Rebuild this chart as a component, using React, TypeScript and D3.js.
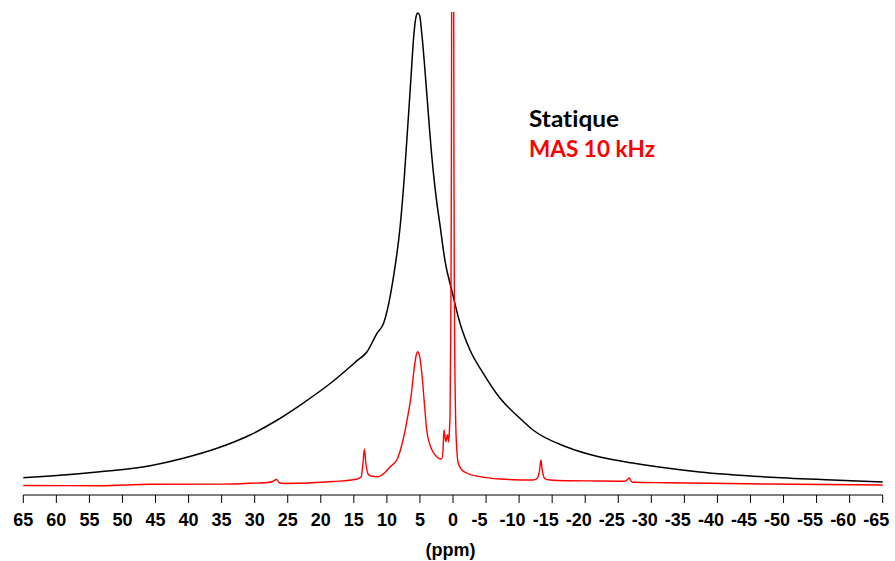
import React from "react";
import * as d3 from "d3";

// Static spectrum (black): ppm (descending) and relative intensity
const staticPpm = [65.0, 60.9, 53.4, 45.8, 40.8, 35.7, 30.7, 26.7, 23.1, 18.1, 14.6, 13.0, 11.5, 10.5, 9.0, 8.0, 7.36, 6.35, 5.9, 5.56, 5.34, 5.03, 4.73, 3.89, 3.48, 2.98, 2.5, 1.97, 1.21, 0.2, -1.06, -2.57, -4.58, -7.1, -10.13, -12.1, -17.2, -22.2, -27.2, -32.3, -37.3, -47.4, -57.4, -65.0];
const staticInt = [1.75, 2.11, 3.02, 4.29, 5.86, 7.97, 10.78, 13.85, 17.12, 22.2, 26.4, 28.39, 32.28, 34.4, 44.25, 54.82, 65.39, 86.53, 95.77, 99.4, 100, 99.4, 95.77, 81.6, 74.2, 66.4, 60.5, 55.2, 47.6, 41.44, 34.4, 28.75, 23.83, 18.6, 14.31, 11.84, 8.25, 6.13, 4.86, 3.81, 2.96, 1.9, 1.27, 0.85];

// MAS 10 kHz spectrum (red)
const masPpm = [65, 53.4, 45.8, 33.3, 30.7, 28.0, 27.3, 26.7, 26.2, 25.4, 18.1, 14.6, 13.9, 13.6, 13.4, 13.2, 12.85, 12.4, 11.3, 10.3, 9.5, 8.5, 7.56, 6.95, 6.35, 5.9, 5.52, 5.34, 5.06, 4.69, 4.31, 3.98, 3.48, 3.02, 2.46, 1.97, 1.71, 1.51, 1.36, 1.21, 1.06, 0.91, 0.8, 0.68, 0.55, 0.45, 0.4, 0.35, 0.3, 0.25, 0.2, 0.15, 0.1, 0.05, 0, -0.05, -0.1, -0.15, -0.2, -0.25, -0.3, -0.4, -0.6, -0.8, -1.36, -2.07, -4.08, -7.1, -12.1, -12.7, -13.1, -13.3, -13.5, -13.9, -14.7, -17.2, -22.2, -26.0, -26.4, -26.65, -27.0, -27.5, -32.3, -47.4, -65];
const masInt = [0.1, 0.06, 0.36, 0.42, 0.57, 0.74, 0.95, 1.37, 0.63, 0.53, 0.95, 1.42, 1.9, 5.07, 7.76, 5.07, 2.54, 2.11, 1.97, 2.85, 4.08, 5.5, 9.73, 13.95, 18.88, 24.52, 27.9, 28.39, 27.5, 23.47, 17.12, 11.84, 8.67, 7.19, 6.19, 5.71, 5.71, 7.61, 11.84, 10.36, 9.37, 10.57, 10.78, 9.3, 11.5, 15, 22.7, 30.4, 43, 65, 106, 197, 404, 623, 404, 197, 106, 65, 43, 30.4, 22.7, 14, 7.19, 4.8, 3.38, 2.75, 1.97, 1.48, 1.27, 1.58, 3.38, 5.5, 3.38, 1.58, 1.27, 1.12, 1.06, 1.01, 1.37, 1.69, 0.95, 0.78, 0.7, 0.42, 0.21];

const tickValues = [65, 60, 55, 50, 45, 40, 35, 30, 25, 20, 15, 10, 5, 0, -5, -10, -15, -20, -25, -30, -35, -40, -45, -50, -55, -60, -65];
const legendLabels = ["Statique", "MAS 10 kHz"];
const legendColors = ["#000000", "#ff0000"];
const legendWidths = [90, 126];

export default function App() {
  const W = 895, H = 561;
  const x = d3.scaleLinear().domain([65, -65]).range([23.3, 882.7]);
  const y = d3.scaleLinear().domain([0, 100]).range([486, 13]);
  const axisY = 495;
  const line = d3.line<[number, number]>()
    .x(d => x(d[0]))
    .y(d => y(d[1]))
    .curve(d3.curveMonotoneX);
  const staticData = staticPpm.map((p, i) => [p, staticInt[i]] as [number, number]);
  const masData = masPpm.map((p, i) => [p, masInt[i]] as [number, number]);

  return (
    <svg width={W} height={H} style={{ position: "absolute", left: 0, top: 0, background: "#fff" }}>
      <defs>
        <clipPath id="plotclip">
          <rect x={0} y={12} width={W} height={axisY - 12} />
        </clipPath>
      </defs>
      <g clipPath="url(#plotclip)" fill="none">
        <path d={line(staticData) || ""} stroke="#000" strokeWidth={1.5} />
        <path d={line(masData) || ""} stroke="#ff0000" strokeWidth={1.4} />
      </g>
      <g>
        <line x1={x(65)} x2={x(-65)} y1={axisY} y2={axisY} stroke="#000" strokeWidth={1} />
        {tickValues.map(t => (
          <g key={t}>
            <line x1={x(t)} x2={x(t)} y1={axisY} y2={axisY + 8} stroke="#000" strokeWidth={1} />
            <text x={x(t) + (t < 0 ? -6.5 : 0)} y={526} textAnchor="middle"
              fontFamily="'Liberation Sans', Arial, sans-serif" fontWeight="bold" fontSize={18} fill="#000">
              {t}
            </text>
          </g>
        ))}
        <text x={450.5} y={556} textAnchor="middle" fontFamily="'Liberation Sans', Arial, sans-serif"
          fontWeight="bold" fontSize={18} fill="#000">(ppm)</text>
      </g>
      <g fontFamily="Lato, 'Open Sans', sans-serif" fontWeight="bold" fontSize={22}
        style={{ fontVariantLigatures: "none" }}>
        {legendLabels.map((l, i) => (
          <text key={l} x={529} y={126.7 + i * 30} fill={legendColors[i]}
            textLength={legendWidths[i]} lengthAdjust="spacingAndGlyphs">{l}</text>
        ))}
      </g>
    </svg>
  );
}
